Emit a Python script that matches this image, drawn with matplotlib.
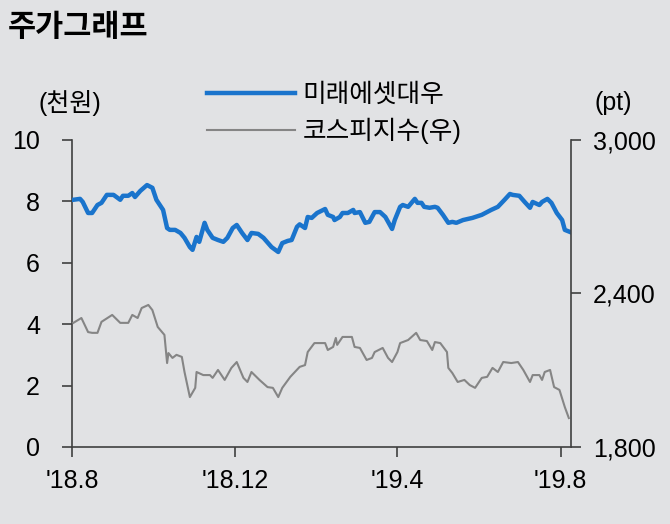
import numpy as np
import pandas as pd
import matplotlib
matplotlib.use("Agg")
import matplotlib.pyplot as plt
import matplotlib.dates as mdates

plt.rcParams['font.family'] = ['Liberation Sans', 'Noto Sans CJK KR', 'DejaVu Sans']

start = pd.Timestamp('2018-08-01')

# 미래에셋대우 (천원) - days since start, price
mirae_days = [1, 6, 8, 12, 15, 17, 19, 22, 26, 31, 36, 38, 42, 45, 47, 51, 56, 60, 63, 68,
              71, 73, 77, 81, 84, 88, 90, 93, 95, 99, 101, 105, 109, 113, 116, 120, 123, 127,
              131, 134, 139, 143, 149, 154, 157, 161, 164, 168, 170, 174, 176, 179, 183, 189,
              191, 195, 196, 200, 202, 206, 210, 211, 215, 219, 222, 226, 230, 234, 239, 241,
              245, 247, 251, 256, 258, 261, 263, 267, 271, 273, 277, 281, 284, 287, 292, 299,
              306, 313, 318, 323, 327, 329, 334, 338, 342, 344, 349, 351, 355, 358, 362, 366,
              368, 372]
mirae = [8.05, 8.08, 7.98, 7.62, 7.62, 7.75, 7.88, 7.95, 8.21, 8.21, 8.05, 8.18, 8.18, 8.27,
         8.14, 8.34, 8.53, 8.44, 8.05, 7.72, 7.13, 7.07, 7.07, 6.97, 6.81, 6.51, 6.42, 6.84,
         6.68, 7.30, 7.07, 6.81, 6.74, 6.68, 6.81, 7.13, 7.23, 6.97, 6.74, 6.97, 6.94, 6.81,
         6.51, 6.35, 6.64, 6.71, 6.74, 7.17, 7.25, 7.13, 7.49, 7.46, 7.62, 7.75, 7.56, 7.49,
         7.39, 7.49, 7.62, 7.62, 7.72, 7.62, 7.65, 7.30, 7.33, 7.65, 7.65, 7.49, 7.10, 7.39,
         7.82, 7.88, 7.82, 8.08, 7.95, 7.95, 7.82, 7.79, 7.82, 7.79, 7.56, 7.30, 7.33, 7.30,
         7.39, 7.46, 7.56, 7.72, 7.82, 8.05, 8.24, 8.21, 8.18, 7.98, 7.79, 7.98, 7.88, 7.98,
         8.08, 7.95, 7.62, 7.39, 7.07, 7.00]

# 코스피지수 (pt)
kospi_days = [1, 7, 12, 15, 19, 22, 30, 36, 42, 45, 49, 52, 57, 60, 64, 69, 71, 72, 75, 78,
              82, 84, 88, 92, 93, 98, 103, 105, 109, 114, 119, 123, 128, 131, 134, 140, 146,
              150, 154, 157, 163, 170, 174, 176, 181, 189, 191, 195, 197, 198, 202, 209, 211,
              215, 220, 224, 226, 232, 236, 239, 243, 245, 251, 257, 260, 265, 269, 271, 275,
              280, 281, 284, 288, 293, 297, 301, 306, 310, 314, 318, 322, 328, 333, 337, 342,
              344, 349, 351, 353, 357, 360, 364, 368, 371]
kospi = [2285, 2304, 2249, 2246, 2246, 2289, 2316, 2285, 2285, 2316, 2304, 2343, 2355, 2335,
         2269, 2238, 2128, 2167, 2148, 2160, 2152, 2093, 1995, 2031, 2093, 2081, 2081, 2070,
         2101, 2062, 2109, 2132, 2070, 2054, 2093, 2062, 2034, 2031, 1995, 2031, 2074, 2113,
         2120, 2171, 2206, 2206, 2179, 2191, 2226, 2199, 2230, 2230, 2191, 2187, 2140, 2148,
         2171, 2187, 2148, 2132, 2171, 2206, 2218, 2246, 2218, 2214, 2179, 2210, 2206, 2171,
         2109, 2089, 2054, 2062, 2042, 2031, 2070, 2074, 2109, 2093, 2132, 2128, 2132, 2101,
         2054, 2081, 2081, 2062, 2093, 2101, 2034, 2023, 1956, 1913]

tick_dates = ['2018-08-01', '2018-12-01', '2019-04-01', '2019-08-01']
tick_labels = ["'18.8", "'18.12", "'19.4", "'19.8"]

mirae_x = start + pd.to_timedelta(mirae_days, unit='D')
kospi_x = start + pd.to_timedelta(kospi_days, unit='D')

bg = '#e1e2e4'
axc = '#404040'
fig = plt.figure(figsize=(6.7, 5.24), dpi=100, facecolor=bg)
ax = fig.add_axes([0.1075, 0.147, 0.7445, 0.586], facecolor=bg)
ax2 = ax.twinx()

l1, = ax.plot(mirae_x, mirae, color='#1a74cc', lw=3.2, label='미래에셋대우', zorder=3)
l2, = ax2.plot(kospi_x, kospi, color='#858585', lw=1.5, label='코스피지수(우)')

ax.set_ylim(0, 10)
ax.set_yticks([0, 2, 4, 6, 8, 10])
ax2.set_ylim(1800, 3000)
ax2.set_yticks([1800, 2400, 3000])
ax2.set_yticklabels(['1,800', '2,400', '3,000'])
ax.set_xlim(start, start + pd.Timedelta(days=372.5))
ax.set_xticks(pd.to_datetime(tick_dates))
ax.set_xticklabels(tick_labels)

for a in (ax, ax2):
    a.spines['top'].set_visible(False)
    for s in ('left', 'right', 'bottom'):
        a.spines[s].set_color(axc)
        a.spines[s].set_linewidth(1.2)
ax.spines['right'].set_visible(False)
ax2.spines['left'].set_visible(False)
ax2.spines['bottom'].set_visible(False)

ax.tick_params(axis='y', direction='out', length=7, width=1.2, color=axc, labelsize=18, pad=16)
ax.tick_params(axis='x', direction='out', length=7, width=1.2, color=axc, labelsize=18, pad=9)
ax2.tick_params(axis='y', direction='out', length=7, width=1.2, color=axc, labelsize=18, pad=9)

fig.text(0.012, 0.946, '주가그래프', fontsize=22, fontweight='bold', va='center', ha='left')
fig.text(0.105, 0.803, '(천원)', fontsize=18, va='center', ha='center')
fig.text(0.915, 0.803, '(pt)', fontsize=18, va='center', ha='center')

fig.legend(handles=[l1, l2], loc='center left', bbox_to_anchor=(0.275, 0.783),
           frameon=False, fontsize=18.5, handlelength=3.4, handletextpad=0.3,
           labelspacing=0.42)

fig.savefig('out.png', dpi=100, facecolor=bg)
